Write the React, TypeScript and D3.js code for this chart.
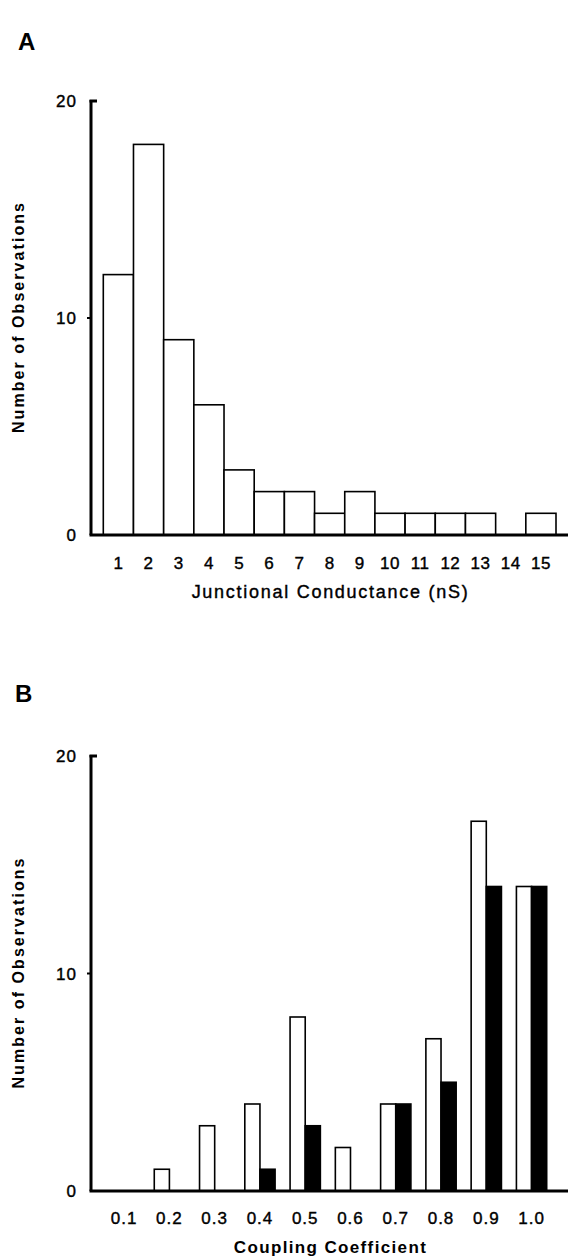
import React from "react";
import * as d3 from "d3";

const conductanceBins = ["1","2","3","4","5","6","7","8","9","10","11","12","13","14","15"];
const conductanceCounts = [12, 18, 9, 6, 3, 2, 2, 1, 2, 1, 1, 1, 1, 0, 1];

const couplingBins = ["0.1","0.2","0.3","0.4","0.5","0.6","0.7","0.8","0.9","1.0"];
const couplingAll = [0, 1, 3, 4, 8, 2, 4, 7, 17, 14];
const couplingBlack = [0, 0, 0, 1, 3, 0, 4, 5, 14, 14];
const couplingSeries = ["open", "filled"];

const yTicks = [0, 10, 20];

const FONT = "'Liberation Sans', Arial, Helvetica, sans-serif";
const W = 568;
const H = 1258;
const AXIS_X = 91;

function YAxis({ y, top, titleLen }: { y: d3.ScaleLinear<number, number>; top: number; titleLen: number }) {
  const mid = y(10);
  return (
    <g>
      <line x1={AXIS_X} x2={AXIS_X} y1={top - 1} y2={y(0)} stroke="#000" strokeWidth={3} />
      <line x1={AXIS_X - 1.5} x2={AXIS_X + 6} y1={y(20)} y2={y(20)} stroke="#000" strokeWidth={3} />
      <line x1={AXIS_X - 4} x2={AXIS_X} y1={y(10)} y2={y(10)} stroke="#000" strokeWidth={2} />
      {yTicks.map((t) => (
        <text key={t} x={77} y={y(t) + 6} textAnchor="end" fontFamily={FONT} fontSize={17} letterSpacing={1}
          stroke="#000" strokeWidth={0.4}>
          {t}
        </text>
      ))}
      <text
        transform={`translate(24,${mid}) rotate(-90)`}
        textAnchor="middle"
        fontFamily={FONT}
        fontSize={16}
        fontWeight="bold"
        textLength={titleLen}
        lengthAdjust="spacing"
      >
        Number of Observations
      </text>
    </g>
  );
}

export default function App() {
  // Panel A
  const yA = d3.scaleLinear().domain([0, 20]).range([535, 101]);
  const xA = d3.scaleBand<string>().domain(conductanceBins).range([103.3, 556]).padding(0);

  // Panel B
  const yB = d3.scaleLinear().domain([0, 20]).range([1191, 756]);
  const xB = d3
    .scaleBand<string>()
    .domain(couplingBins)
    .range([109, 546.7])
    .paddingInner(0.331)
    .paddingOuter(0);
  const xSub = d3.scaleBand<string>().domain(couplingSeries).range([0, xB.bandwidth()]).padding(0);

  return (
    <svg width={W} height={H} style={{ position: "absolute", left: 0, top: 0, background: "#fff" }}>
      <rect x={0} y={0} width={W} height={H} fill="#fff" />

      {/* Panel A */}
      <text x={18} y={50} fontFamily={FONT} fontSize={24} fontWeight="bold">A</text>
      {conductanceCounts.map((v, i) =>
        v > 0 ? (
          <rect
            key={i}
            x={xA(conductanceBins[i])}
            y={yA(v)}
            width={xA.bandwidth()}
            height={yA(0) - yA(v)}
            fill="#fff"
            stroke="#000"
            strokeWidth={1.6}
          />
        ) : null
      )}
      <line x1={AXIS_X - 1.5} x2={W} y1={yA(0)} y2={yA(0)} stroke="#000" strokeWidth={3} />
      <YAxis y={yA} top={101} titleLen={230} />
      {conductanceBins.map((b) => (
        <text
          key={b}
          x={(xA(b) as number) + xA.bandwidth() / 2}
          y={569}
          textAnchor="middle"
          fontFamily={FONT}
          fontSize={17}
          letterSpacing={0.5}
          stroke="#000"
          strokeWidth={0.4}
        >
          {b}
        </text>
      ))}
      <text
        x={(xA.range()[0] + xA.range()[1]) / 2}
        y={598}
        textAnchor="middle"
        fontFamily={FONT}
        fontSize={18}
        textLength={276}
        lengthAdjust="spacing"
        stroke="#000"
        strokeWidth={0.4}
      >
        Junctional Conductance (nS)
      </text>

      {/* Panel B */}
      <text x={15} y={702} fontFamily={FONT} fontSize={24} fontWeight="bold">B</text>
      {couplingBins.map((b, i) => (
        <g key={b} transform={`translate(${xB(b)},0)`}>
          {couplingAll[i] > 0 ? (
            <rect
              x={xSub("open")}
              y={yB(couplingAll[i])}
              width={xSub.bandwidth()}
              height={yB(0) - yB(couplingAll[i])}
              fill="#fff"
              stroke="#000"
              strokeWidth={1.6}
            />
          ) : null}
          {couplingBlack[i] > 0 ? (
            <rect
              x={xSub("filled")}
              y={yB(couplingBlack[i])}
              width={xSub.bandwidth()}
              height={yB(0) - yB(couplingBlack[i])}
              fill="#000"
              stroke="#000"
              strokeWidth={1.6}
            />
          ) : null}
        </g>
      ))}
      <line x1={AXIS_X - 1.5} x2={W} y1={yB(0)} y2={yB(0)} stroke="#000" strokeWidth={3} />
      <YAxis y={yB} top={756} titleLen={230} />
      {couplingBins.map((b) => (
        <text
          key={b}
          x={(xB(b) as number) + xB.bandwidth() / 2}
          y={1224}
          textAnchor="middle"
          fontFamily={FONT}
          fontSize={17}
          letterSpacing={1}
          stroke="#000"
          strokeWidth={0.4}
        >
          {b}
        </text>
      ))}
      <text
        x={(xB.range()[0] + xB.range()[1]) / 2 + 2}
        y={1253}
        textAnchor="middle"
        fontFamily={FONT}
        fontSize={17}
        fontWeight="bold"
        textLength={192}
        lengthAdjust="spacing"
      >
        Coupling Coefficient
      </text>
    </svg>
  );
}
